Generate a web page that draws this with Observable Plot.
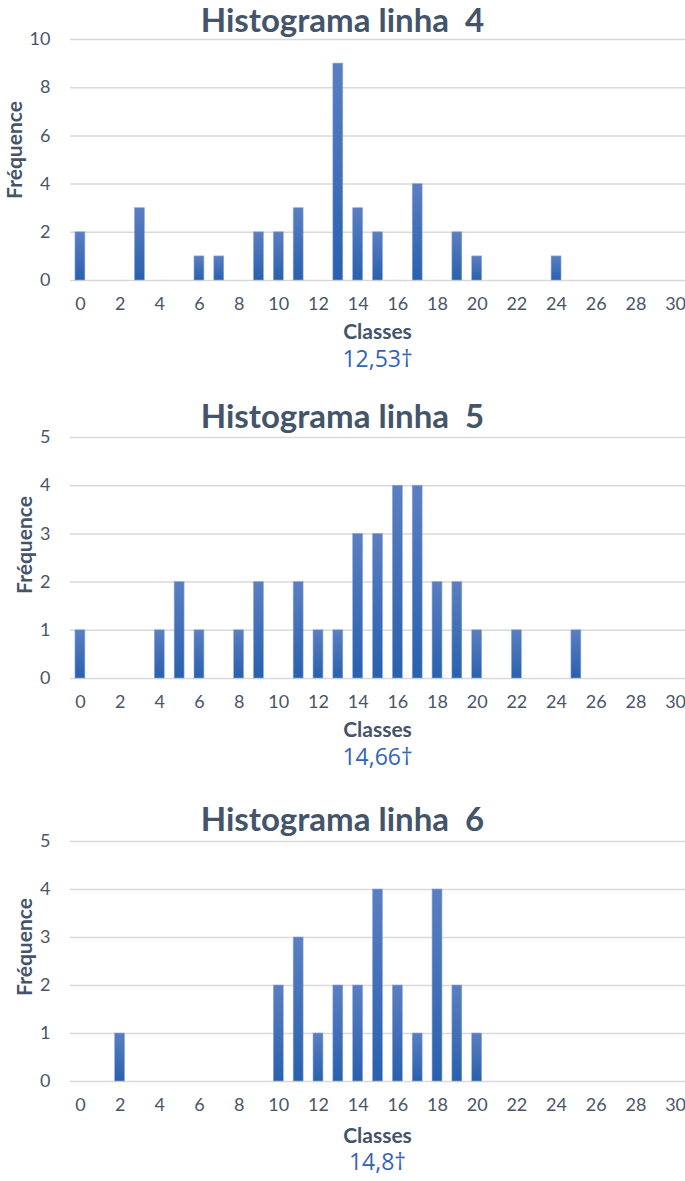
<!DOCTYPE html>
<html>
<head>
<meta charset="utf-8">
<script src="https://cdn.jsdelivr.net/npm/d3@7"></script>
<script src="https://cdn.jsdelivr.net/npm/@observablehq/plot@0.6"></script>
<style>
  html, body { margin: 0; padding: 0; background: #fff; }
  #root { position: relative; width: 685px; height: 1181px; overflow: hidden; }
  .title { position: absolute; left: 0; width: 685px; text-align: center; font-family: Lato, "Open Sans", sans-serif; font-weight: 700; font-size: 33px; color: #44546A; line-height: 1; white-space: pre; }
  .xlab { position: absolute; left: 70px; width: 615px; text-align: center; font-family: Lato, "Open Sans", sans-serif; font-weight: 700; font-size: 21px; color: #44546A; line-height: 1; }
  .ylab { position: absolute; font-family: Lato, "Open Sans", sans-serif; font-weight: 700; font-size: 21px; color: #44546A; line-height: 1; transform: translate(-50%, -50%) rotate(-90deg); white-space: nowrap; }
  .note { position: absolute; left: 70px; width: 615px; text-align: center; font-family: "Open Sans", sans-serif; font-weight: 400; font-size: 23px; color: #3464B4; line-height: 1; }
  .chart { position: absolute; left: 0; }
</style>
</head>
<body>
<div id="root"></div>
<script>
// ---- data ----
const classes = [0,1,2,3,4,5,6,7,8,9,10,11,12,13,14,15,16,17,18,19,20,21,22,23,24,25,26,27,28,29,30];
const xTickLabels = [0,2,4,6,8,10,12,14,16,18,20,22,24,26,28,30];
const freqLinha4 = [2,0,0,3,0,0,1,1,0,2,2,3,0,9,3,2,0,4,0,2,1,0,0,0,1,0,0,0,0,0,0];
const freqLinha5 = [1,0,0,0,1,2,1,0,1,2,0,2,1,1,3,3,4,4,2,2,1,0,1,0,0,1,0,0,0,0,0];
const freqLinha6 = [0,0,1,0,0,0,0,0,0,0,2,3,1,2,2,4,2,1,4,2,1,0,0,0,0,0,0,0,0,0,0];
const titles = ["Histograma linha  4", "Histograma linha  5", "Histograma linha  6"];
const notes = ["12,53†", "14,66†", "14,8†"];
const yTicks4 = [0,2,4,6,8,10];
const yTicks56 = [0,1,2,3,4,5];
const yLabel = "Fréquence";
const xLabel = "Classes";

// ---- layout (positions only) ----
const series = [freqLinha4, freqLinha5, freqLinha6];
const yTickSets = [yTicks4, yTicks56, yTicks56];
const layout = [
  {svgTop: 19,  plotH: 241, titleTop: 3,   xlabTop: 320,  noteTop: 347,  ylabX: 13, ylabY: 150},
  {svgTop: 417, plotH: 241, titleTop: 399, xlabTop: 718,  noteTop: 745,  ylabX: 23, ylabY: 545},
  {svgTop: 821, plotH: 240, titleTop: 802, xlabTop: 1124, noteTop: 1150, ylabX: 23, ylabY: 947}
];

const root = document.getElementById("root");

series.forEach((vals, i) => {
  const L = layout[i];
  const data = classes.map((c, k) => ({classe: c, freq: vals[k]})).filter(d => d.freq > 0);
  const yT = yTickSets[i];
  const gid = "barGrad" + i;
  const marginTop = 20, marginBottom = 40;
  const chart = Plot.plot({
    width: 685,
    height: marginTop + L.plotH + marginBottom,
    marginLeft: 70,
    marginRight: 0,
    marginTop,
    marginBottom,
    style: {fontFamily: "Lato, 'Open Sans', sans-serif", fontSize: "18px", color: "#4A5568", background: "transparent", overflow: "visible"},
    x: {type: "band", domain: classes, paddingInner: 0.5, paddingOuter: 0.25, round: false, label: null},
    y: {domain: [0, d3.max(yT)], label: null},
    marks: [
      Plot.gridY(yT, {stroke: "#D9D9D9", strokeOpacity: 1, strokeWidth: 1.5}),
      Plot.barY(data, {x: "classe", y: "freq", fill: `url(#${gid})`, stroke: "#8EA9DB", strokeWidth: 0.6}),
      Plot.axisX({ticks: xTickLabels, tickSize: 0, tickPadding: 17, label: null, fill: "#4A5568"}),
      Plot.axisY({ticks: yT, tickSize: 0, tickPadding: 20, tickFormat: d3.format("d"), label: null, fill: "#4A5568"})
    ]
  });
  const defs = d3.select(chart).insert("defs", ":first-child");
  const g = defs.append("linearGradient").attr("id", gid).attr("x1", 0).attr("y1", 0).attr("x2", 0).attr("y2", 1);
  g.append("stop").attr("offset", "0%").attr("stop-color", "#5B7EC1");
  g.append("stop").attr("offset", "100%").attr("stop-color", "#2861AE");
  chart.classList.add("chart");
  chart.style.top = L.svgTop + "px";
  root.appendChild(chart);

  const t = document.createElement("div");
  t.className = "title"; t.style.top = L.titleTop + "px"; t.textContent = titles[i];
  root.appendChild(t);

  const xl = document.createElement("div");
  xl.className = "xlab"; xl.style.top = L.xlabTop + "px"; xl.textContent = xLabel;
  root.appendChild(xl);

  const yl = document.createElement("div");
  yl.className = "ylab"; yl.style.left = L.ylabX + "px"; yl.style.top = L.ylabY + "px"; yl.textContent = yLabel;
  root.appendChild(yl);

  const n = document.createElement("div");
  n.className = "note"; n.style.top = L.noteTop + "px"; n.textContent = notes[i];
  root.appendChild(n);
});
</script>
</body>
</html>
